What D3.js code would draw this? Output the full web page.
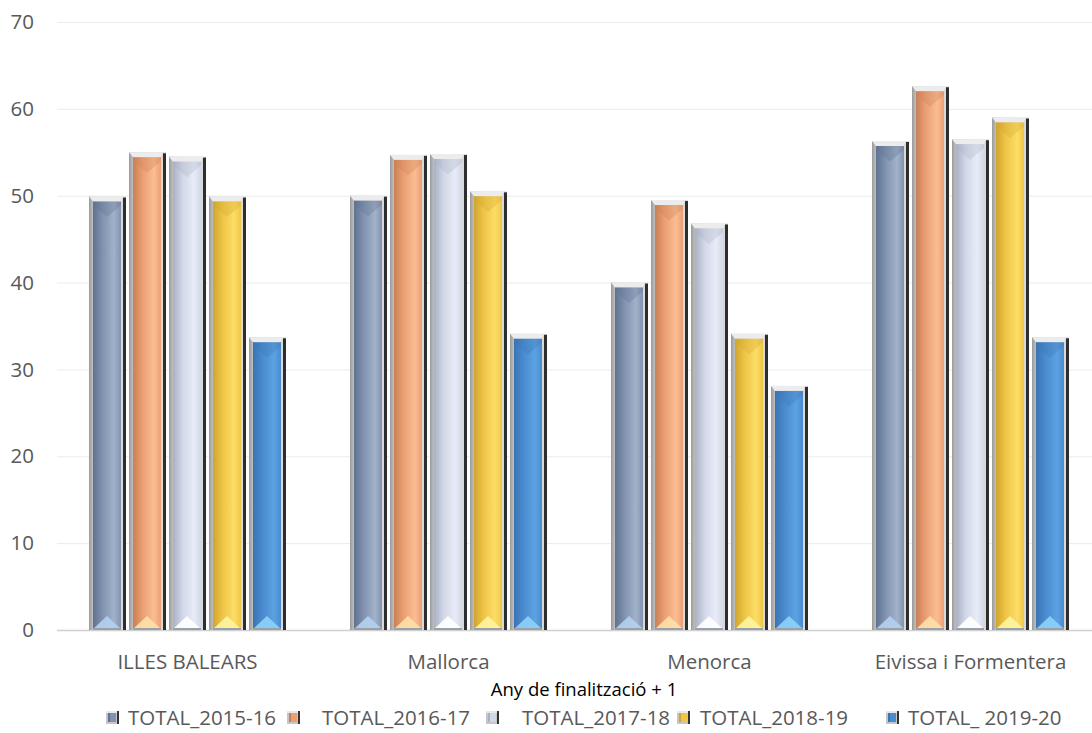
<!DOCTYPE html>
<html><head><meta charset="utf-8">
<script src="https://cdn.jsdelivr.net/npm/d3@7"></script>
<style>html,body{margin:0;padding:0;background:#fff;}svg{display:block;font-family:"Open Sans",sans-serif;}</style>
</head><body><svg id="c" width="1092" height="733"></svg>
<script>
const categories = ["ILLES BALEARS", "Mallorca", "Menorca", "Eivissa i Formentera"];
const seriesNames = ["TOTAL_2015-16", "TOTAL_2016-17", "TOTAL_2017-18", "TOTAL_2018-19", "TOTAL_ 2019-20"];
const total_2015_16 = [49.9, 50.0, 40.0, 56.3];
const total_2016_17 = [55.0, 54.7, 49.5, 62.6];
const total_2017_18 = [54.5, 54.8, 46.8, 56.5];
const total_2018_19 = [49.9, 50.5, 34.1, 59.0];
const total_2019_20 = [33.7, 34.1, 28.1, 33.7];
const yTicks = [0, 10, 20, 30, 40, 50, 60, 70];
const axisTitle = "Any de finalització + 1";

const seriesValues = [total_2015_16, total_2016_17, total_2017_18, total_2018_19, total_2019_20];
const palette = [
  {dark:"#5f7290", mid:"#8193b0", light:"#a3b2ca", hi:"#b4d2f2"},
  {dark:"#c98056", mid:"#eb9f74", light:"#fbbd92", hi:"#fde0a8"},
  {dark:"#a9b1c4", mid:"#d2d8e8", light:"#e8ecf8", hi:"#ffffff"},
  {dark:"#d0a42e", mid:"#eec646", light:"#fddd66", hi:"#fff4a0"},
  {dark:"#3a74b2", mid:"#4a8ccf", light:"#5ca2e2", hi:"#8ed2fa"}
];

const svg = d3.select("#c");
const defs = svg.append("defs");
palette.forEach((p,i)=>{
  const g = defs.append("linearGradient").attr("id","face"+i).attr("x1","0").attr("x2","1").attr("y1","0").attr("y2","0");
  g.append("stop").attr("offset","0").attr("stop-color",p.dark);
  g.append("stop").attr("offset","0.35").attr("stop-color",p.mid);
  g.append("stop").attr("offset","0.75").attr("stop-color",p.light);
  g.append("stop").attr("offset","1").attr("stop-color",p.mid);
});
const fg = defs.append("linearGradient").attr("id","frame").attr("x1","0").attr("x2","1");
fg.append("stop").attr("offset","0").attr("stop-color","#9a9a9a");
fg.append("stop").attr("offset","0.12").attr("stop-color","#c4c4c4");
fg.append("stop").attr("offset","1").attr("stop-color","#dcdcdc");

const y = d3.scaleLinear().domain([0,70]).range([630,22]);
const x0 = d3.scaleBand().domain(categories).range([57,1101]).padding(0);
const x1 = d3.scaleBand().domain(d3.range(5)).range([0,x0.bandwidth()]).paddingInner(0.075).paddingOuter(0.8);

// gridlines
svg.append("g").selectAll("line").data(yTicks).join("line")
  .attr("x1",57).attr("x2",1092).attr("y1",d=>y(d)+0.5).attr("y2",d=>y(d)+0.5)
  .attr("stroke",d=>d===0?"#d0d0d0":"#ebebeb").attr("stroke-width",d=>d===0?1.5:1);
svg.append("g").selectAll("text").data(yTicks).join("text")
  .attr("x",34).attr("y",d=>y(d)).attr("dy","0.35em").attr("text-anchor","end")
  .attr("font-size",20.5).attr("fill","#595959").text(d=>d);

const bars = [];
categories.forEach((c,ci)=>seriesValues.forEach((vals,si)=>bars.push({c,ci,si,v:vals[ci]})));

function drawBevel(g, x, yTop, w, h, si){
  const p = palette[si];
  const b = yTop + h;
  g.append("rect").attr("x",x).attr("y",yTop).attr("width",w).attr("height",h).attr("fill","url(#frame)");
  g.append("rect").attr("x",x+w-3).attr("y",yTop+1).attr("width",3).attr("height",h-1).attr("fill","#2e2e2e");
  const lx = x + 4, rx = x + w - 5, ty = yTop + 5;
  g.append("path").attr("d",`M${x},${yTop}L${x+w-3},${yTop}L${rx},${ty}L${lx},${ty}Z`).attr("fill","#ececec");
  g.append("rect").attr("x",lx).attr("y",ty).attr("width",rx-lx).attr("height",Math.max(0,b-ty-1)).attr("fill","url(#face"+si+")");
  const cx = (lx+rx)/2;
  g.append("path").attr("d",`M${lx},${ty}L${rx},${ty}L${rx},${ty+w*0.1}L${cx},${ty+w*0.42}L${lx},${ty+w*0.1}Z`)
    .attr("fill",p.dark).attr("opacity",0.3);
  g.append("path").attr("d",`M${lx},${b-1}L${rx},${b-1}L${cx},${b-w*0.38}Z`).attr("fill",p.hi).attr("opacity",0.9);
  g.append("rect").attr("x",lx).attr("y",b-2).attr("width",rx-lx).attr("height",2).attr("fill","#9aa0aa");
}

function drawIcon(g, x, yTop, s, si){
  const p = palette[si];
  g.append("rect").attr("x",x).attr("y",yTop).attr("width",s).attr("height",s).attr("fill","#c6c6c6");
  g.append("rect").attr("x",x).attr("y",yTop).attr("width",s-2).attr("height",2).attr("fill","#e8e8e8");
  g.append("rect").attr("x",x+s-2).attr("y",yTop).attr("width",2).attr("height",s).attr("fill","#333");
  g.append("rect").attr("x",x+2).attr("y",yTop+2).attr("width",s-5).attr("height",s-4).attr("fill",p.mid);
  g.append("rect").attr("x",x+2).attr("y",yTop+2).attr("width",2).attr("height",s-4).attr("fill",p.dark);
}

const gb = svg.append("g");
bars.forEach(d=>{
  const g = gb.append("g");
  const bx = x0(d.c)+x1(d.si);
  drawBevel(g, bx, y(d.v), x1.bandwidth(), y(0)-y(d.v), d.si);
});

// category labels
svg.append("g").selectAll("text").data(categories).join("text")
  .attr("x",d=>x0(d)+x0.bandwidth()/2).attr("y",662).attr("dy","0.35em").attr("text-anchor","middle")
  .attr("font-size",20.5).attr("fill","#595959").text(d=>d);
svg.append("text").attr("x",584).attr("y",690).attr("dy","0.35em").attr("text-anchor","middle")
  .attr("font-size",18.5).attr("fill","#000").text(axisTitle);

// legend
const legendTextX = [128, 322, 522, 700, 908];
const legendIconX = [106, 287, 486, 677, 886];
const lg = svg.append("g");
seriesNames.forEach((n,i)=>{
  const g = lg.append("g");
  drawIcon(g, legendIconX[i], 711, 13, i);
  lg.append("text").attr("x",legendTextX[i]).attr("y",718).attr("dy","0.35em").attr("font-size",20.5).attr("fill","#595959").text(n);
});
</script></body></html>
